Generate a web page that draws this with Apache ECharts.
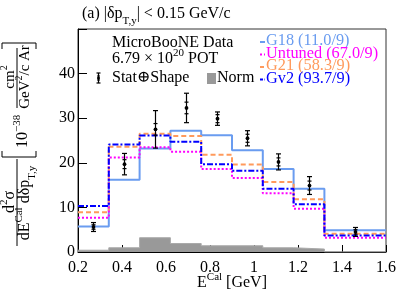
<!DOCTYPE html>
<html><head><meta charset="utf-8">
<script src="https://cdn.jsdelivr.net/npm/echarts@6/dist/echarts.min.js"></script>
<style>html,body{margin:0;padding:0;background:#fff}#c{width:407px;height:295px}</style>
</head><body><div id="c"></div>
<script>
// ---- data ----
const binEdges   = [0.2, 0.34, 0.48, 0.62, 0.76, 0.90, 1.04, 1.18, 1.32, 1.6];
const binCenters = [0.27, 0.41, 0.55, 0.69, 0.83, 0.97, 1.11, 1.25, 1.46];
const dataVals     = [5.6, 19.7, 27.5, 32.3, 29.9, 25.5, 20.2, 14.9, 4.5];
const dataErrTotal = [1.0, 2.4, 4.2, 3.3, 1.5, 1.7, 1.8, 2.0, 1.0];
const dataErrStat  = [0.5, 1.0, 1.3, 1.3, 0.9, 0.9, 0.9, 1.0, 0.5];
const g18Vals     = [5.7, 16.2, 23.2, 27.2, 26.2, 22.8, 18.6, 14.2, 4.85];
const untunedVals = [7.7, 21.2, 23.5, 22.5, 18.6, 16.6, 13.2, 9.7, 3.2];
const g21Vals     = [8.9, 23.6, 26.5, 26.0, 21.8, 19.6, 15.7, 11.8, 4.1];
const gv2Vals     = [10.3, 24.1, 26.1, 24.7, 19.7, 18.2, 14.2, 10.7, 3.7];
const normVals    = [0.4, 0.95, 3.2, 1.9, 1.4, 1.4, 0.95, 0.66, 0];
const legendNames = ['G18 (11.0/9)', 'Untuned (67.0/9)', 'G21 (58.3/9)', 'Gv2 (93.7/9)'];
const yTickLabels = ['0', '10', '20', '30', '40'];

const FONT = "'Liberation Serif','DejaVu Serif',serif";
const C_G18 = '#6a9cf0', C_UNT = '#ff00ff', C_G21 = '#ff9a5c', C_GV2 = '#0000ff';

function stepData(vals) {
  return binEdges.map((e, i) => [e, vals[Math.min(i, vals.length - 1)]]);
}
function rich(ms, ss) {
  return {
    m: {fontSize: ms, lineHeight: ms, fontFamily: FONT, color: '#000', verticalAlign: 'top', padding: [3, 0, 0, 0]},
    s: {fontSize: ss, lineHeight: ss, fontFamily: FONT, color: '#000', verticalAlign: 'top', padding: [0, 0, 0, 0]},
    b: {fontSize: ss, lineHeight: ss, fontFamily: FONT, color: '#000', verticalAlign: 'top', padding: [Math.round(ms * 0.8), 0, 0, 0]}
  };
}
function rtext(x, y, text, ms, ss, align) {
  return {type: 'text', x: x, y: y, style: {text: text, rich: rich(ms, ss), align: align || 'left', verticalAlign: 'top'}};
}
function ptext(x, y, text, size, color, align) {
  return {type: 'text', x: x, y: y, style: {text: text, fontSize: size, fontFamily: FONT, fill: color || '#000', align: align || 'left', verticalAlign: 'middle'}};
}
function hline(x1, y1, x2, y2, color, width, dash) {
  return {type: 'line', shape: {x1, y1, x2, y2}, style: {stroke: color, lineWidth: width, lineDash: dash || null}};
}

const chart = echarts.init(document.getElementById('c'), null, {renderer: 'canvas'});

const lineSeries = (name, vals, color, type, width) => ({
  name: name, type: 'line', step: 'end', data: stepData(vals), symbol: 'none',
  lineStyle: {color: color, width: width, type: type}, z: 3, silent: true, animation: false
});

const yLabelGroup = {
  type: 'group', x: 0, y: 252, rotation: Math.PI / 2,
  children: [
    rtext(50, -1, '{m|d}{s|2}{m|σ}', 16, 11, 'center'),
    hline(6, 17, 93, 17, '#000', 1),
    rtext(49, 14, '{m|dE}{s|Cal}{m| dδp}{b|T,y}', 16, 11, 'center'),
    {type: 'polyline', shape: {points: [[101, 2], [95, 2], [95, 36], [101, 36]]}, style: {stroke: '#000', lineWidth: 1, fill: null}},
    rtext(104, 12, '{m|10}{s|−38}', 16, 11, 'left'),
    rtext(175, -0.5, '{m|cm}{s|2}', 15, 10, 'center'),
    hline(144, 17, 204, 17, '#000', 1),
    rtext(175, 14.5, '{m|GeV}{s|2}{m|/c Ar}', 15, 10, 'center'),
    {type: 'polyline', shape: {points: [[203, 2], [209, 2], [209, 36], [203, 36]]}, style: {stroke: '#000', lineWidth: 1, fill: null}}
  ]
};

const legendX = 266, legendYs = [41, 53.5, 66, 78.5];
const legendColors = [C_G18, C_UNT, C_G21, C_GV2];
const legendDash = [null, [2, 2], [4, 2], [3, 1.5, 1.5, 1.5]];

const option = {
  animation: false,
  backgroundColor: '#fff',
  grid: {left: 78, right: 21, top: 29, bottom: 43, show: true, borderColor: '#333', borderWidth: 1, containLabel: false},
  xAxis: {
    type: 'value', min: 0.2, max: 1.6, interval: 0.2,
    axisLine: {show: true, onZero: false, lineStyle: {color: '#000', width: 1}},
    axisTick: {show: true, inside: true, length: 7, lineStyle: {color: '#000'}},
    splitLine: {show: false},
    axisLabel: {fontFamily: FONT, fontSize: 16, color: '#000', margin: 8,
      formatter: v => String(Math.round(v * 10) / 10)}
  },
  yAxis: {
    type: 'value', min: 0, max: 50, interval: 10,
    axisLine: {show: true, lineStyle: {color: '#000', width: 1}},
    axisTick: {show: true, inside: true, length: 9, lineStyle: {color: '#000'}},
    splitLine: {show: false},
    axisLabel: {fontFamily: FONT, fontSize: 16, color: '#000', margin: 3,
      formatter: v => { const i = Math.round(v / 10); return i < yTickLabels.length ? yTickLabels[i] : ''; }}
  },
  series: [
    {name: 'Norm', type: 'line', step: 'end', data: stepData(normVals), symbol: 'none',
      lineStyle: {color: '#aaaaaa', width: 1}, areaStyle: {color: '#999999', opacity: 1}, z: 1, silent: true},
    lineSeries('G18', g18Vals, C_G18, 'solid', 2),
    lineSeries('G21', g21Vals, C_G21, [5, 3], 2),
    lineSeries('Untuned', untunedVals, C_UNT, [2, 2], 2),
    lineSeries('Gv2', gv2Vals, C_GV2, [6, 2, 2, 2], 2),
    {
      name: 'Data', type: 'custom', z: 5, silent: true,
      data: binCenters.map((c, i) => [c, dataVals[i], dataErrTotal[i], dataErrStat[i]]),
      renderItem: function (params, api) {
        const x = api.value(0), y = api.value(1), et = api.value(2), es = api.value(3);
        const p = api.coord([x, y]);
        const t = api.coord([x, y + et])[1], b = api.coord([x, y - et])[1];
        const st = api.coord([x, y + es])[1], sb = api.coord([x, y - es])[1];
        const X = Math.round(p[0]) + 0.5;
        const st1 = {stroke: '#000', lineWidth: 1.2};
        return {type: 'group', children: [
          {type: 'line', shape: {x1: X, y1: t, x2: X, y2: b}, style: st1},
          {type: 'line', shape: {x1: X - 2.5, y1: t, x2: X + 2.5, y2: t}, style: st1},
          {type: 'line', shape: {x1: X - 2.5, y1: b, x2: X + 2.5, y2: b}, style: st1},
          {type: 'line', shape: {x1: X - 2, y1: st, x2: X + 2, y2: st}, style: st1},
          {type: 'line', shape: {x1: X - 2, y1: sb, x2: X + 2, y2: sb}, style: st1},
          {type: 'circle', shape: {cx: X, cy: p[1], r: 1.9}, style: {fill: '#000'}}
        ]};
      }
    }
  ],
  graphic: [
    rtext(82, 3, '{m|(a) |δp}{b|T,y}{m|| < 0.15 GeV/c}', 16, 11, 'left'),
    ptext(112, 43, 'MicroBooNE Data', 16),
    rtext(112, 48, '{m|6.79 × 10}{s|20}{m| POT}', 16, 11, 'left'),
    // Stat+Shape icon
    hline(98.5, 73, 98.5, 83, '#000', 1.2),
    hline(96.5, 73, 100.5, 73, '#000', 1.2),
    hline(96.5, 83, 100.5, 83, '#000', 1.2),
    hline(97, 76, 100, 76, '#000', 1),
    hline(97, 80, 100, 80, '#000', 1),
    {type: 'circle', shape: {cx: 98.5, cy: 78, r: 1.5}, style: {fill: '#000'}},
    ptext(112, 78, 'Stat⊕Shape', 16),
    {type: 'rect', shape: {x: 207, y: 73, width: 9, height: 11}, style: {fill: '#999999'}},
    ptext(217, 78, 'Norm', 16),
    ...legendNames.map((n, i) => ptext(legendX, legendYs[i], n, 16.3, legendColors[i])),
    ...legendNames.map((n, i) => hline(260, legendYs[i] + 1, 265, legendYs[i] + 1, legendColors[i], 2, legendDash[i])),
    rtext(232, 272, '{m|E}{s|Cal}{m| [GeV]}', 16, 11, 'center'),
    yLabelGroup
  ]
};
chart.setOption(option);
</script>
</body></html>
